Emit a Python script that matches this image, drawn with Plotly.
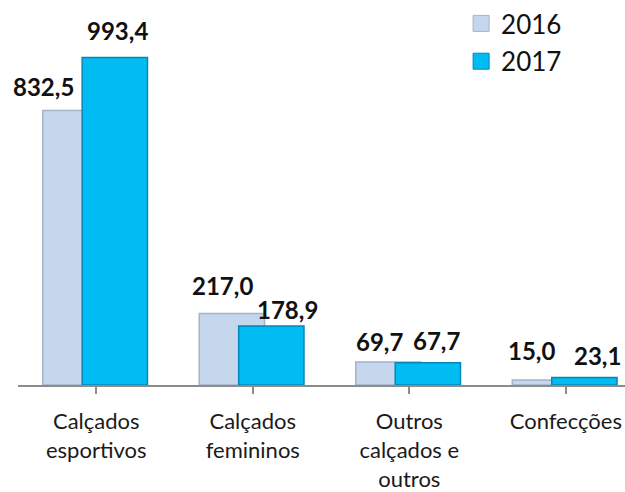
import plotly.graph_objects as go

categories = ["Calçados<br>esportivos", "Calçados<br>femininos", "Outros<br>calçados e<br>outros", "Confecções"]
years = ["2016", "2017"]
values_2016 = [832.5, 217.0, 69.7, 15.0]
values_2017 = [993.4, 178.9, 67.7, 23.1]
labels_2016 = ["832,5", "217,0", "69,7", "15,0"]
labels_2017 = ["993,4", "178,9", "67,7", "23,1"]

xs = list(range(len(categories)))
W = 0.417
C16 = "#c6d6ec"
C17 = "#00bcf2"

fig = go.Figure()
fig.add_trace(go.Bar(
    x=xs, y=values_2016, name=years[0], width=W, offset=-0.342, showlegend=False,
    marker=dict(color=C16, line=dict(color="#a4b3c8", width=1.5)),
))
fig.add_trace(go.Bar(
    x=xs, y=values_2017, name=years[1], width=W, offset=-0.09, showlegend=False,
    marker=dict(color=C17, line=dict(color="#0487b8", width=1.5)),
))
# legend entries with larger square symbols
fig.add_trace(go.Scatter(x=[None], y=[None], mode="markers", name=years[0], legendgroup="a",
                         marker=dict(symbol="square", size=17, color=C16,
                                     line=dict(color="#a4b3c8", width=1))))
fig.add_trace(go.Scatter(x=[None], y=[None], mode="markers", name=years[1], legendgroup="b",
                         marker=dict(symbol="square", size=17, color=C17,
                                     line=dict(color="#0487b8", width=1))))

# label shifts (px) relative to category centre / bar top, styling only
sh16 = [-53, -30, -30, -34]
sh17 = [21, 35, 27, 32]
ys16 = [24, 28, 21, 30]
ys17 = [27, 17, 22, 22]
for i in xs:
    fig.add_annotation(x=i, y=values_2016[i], text="<b>%s</b>" % labels_2016[i], showarrow=False,
                       xshift=sh16[i], yanchor="middle", yshift=ys16[i],
                       font=dict(size=24, color="#111", family="Lato"))
    fig.add_annotation(x=i, y=values_2017[i], text="<b>%s</b>" % labels_2017[i], showarrow=False,
                       xshift=sh17[i], yanchor="middle", yshift=ys17[i],
                       font=dict(size=24, color="#111", family="Lato"))

fig.update_layout(
    width=625, height=492,
    margin=dict(l=18, r=0, t=10, b=102),
    plot_bgcolor="white", paper_bgcolor="white",
    barmode="overlay",
    showlegend=True,
    legend=dict(x=0.73, y=1.056, xanchor="left", yanchor="top",
                font=dict(size=26, family="Lato", color="#111"),
                bgcolor="rgba(0,0,0,0)", itemsizing="trace", tracegroupgap=1),
    font=dict(family="Lato"),
)
fig.update_xaxes(
    tickmode="array", tickvals=xs, ticktext=categories,
    range=[-0.5, 3.378], showgrid=False, zeroline=False,
    showline=True, linecolor="#8c8c8c", linewidth=2,
    ticks="outside", tickson="boundaries", ticklen=7, tickcolor="#8c8c8c", tickwidth=1.5,
    tickfont=dict(size=22, color="#1a1a1a", family="Lato"), ticklabelstandoff=9,
)
fig.update_yaxes(range=[0, 1107], visible=False, fixedrange=True)

fig.write_html("out.html", config={"displayModeBar": False},
               post_script="document.body.style.margin='0';document.body.style.overflow='hidden';")
